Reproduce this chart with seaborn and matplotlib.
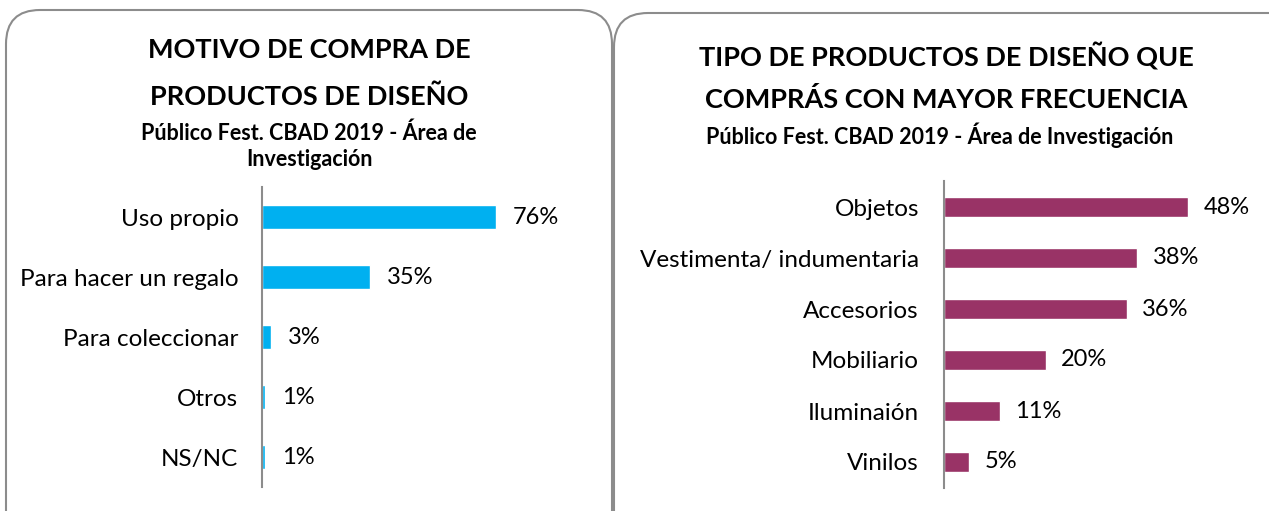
import matplotlib
matplotlib.use("Agg")
import matplotlib.pyplot as plt
import seaborn as sns
from matplotlib.patches import FancyBboxPatch
from matplotlib.transforms import IdentityTransform

# data
motivos = ["Uso propio", "Para hacer un regalo", "Para coleccionar", "Otros", "NS/NC"]
motivos_pct = [76, 35, 3, 1, 1]

tipos = ["Objetos", "Vestimenta/ indumentaria", "Accesorios", "Mobiliario", "Iluminaión", "Vinilos"]
tipos_pct = [48, 38, 36, 20, 11, 5]

W, H = 1269, 511
sns.set_style("white")
plt.rcParams["font.family"] = ["Lato", "DejaVu Sans"]

fig = plt.figure(figsize=(W / 100, H / 100), dpi=100)

# rounded panel frames (pixel coords, origin bottom-left)
for x0, top, w in [(6, 10, 606), (614, 13, 700)]:
    box = FancyBboxPatch((x0, -40), w, H - top + 40,
                         boxstyle="round,pad=0,rounding_size=34",
                         transform=IdentityTransform(), fill=False,
                         edgecolor="#8c8c8c", linewidth=1.5)
    fig.patches.append(box)


def panel(left, top, width, height, cats, vals, color, xmax, pad_lab, pad_val):
    ax = fig.add_axes([left / W, 1 - (top + height) / H, width / W, height / H])
    sns.barplot(x=vals, y=cats, orient="h", color=color, saturation=1,
                width=0.4, ax=ax)
    ax.set_xlim(0, xmax)
    ax.set_ylim(len(cats) - 0.5, -0.5)
    ax.set_xlabel("")
    ax.set_ylabel("")
    ax.set_xticks([])
    sns.despine(ax=ax, top=True, right=True, bottom=True, left=False)
    ax.spines["left"].set_color("#8c8c8c")
    ax.spines["left"].set_linewidth(1.5)
    ax.tick_params(axis="y", length=0, pad=pad_lab, labelsize=17.5, labelcolor="black")
    ax.patch.set_alpha(0)
    ax.bar_label(ax.containers[0], fmt="{:.0f}%", padding=pad_val,
                 fontsize=17, color="black")
    return ax


panel(262, 187, 308, 300, motivos, motivos_pct, "#00B0F0", 100, 17, 12)
panel(944, 181.5, 305, 306, tipos, tipos_pct, "#993366", 60, 18, 11)

# titles
def line(x, y, s, size):
    fig.text(x / W, 1 - y / H, s, ha="center", va="center",
             fontsize=size, fontweight="bold", color="black")

line(309, 50, "MOTIVO DE COMPRA DE", 19.5)
line(309, 97, "PRODUCTOS DE DISEÑO", 19.5)
line(309, 133, "Público Fest. CBAD 2019 - Área de", 15.5)
line(309, 160, "Investigación", 15.5)

line(946, 56, "TIPO DE PRODUCTOS DE DISEÑO QUE", 19.5)
line(946, 100, "COMPRÁS CON MAYOR FRECUENCIA", 19.5)
line(940, 135, "Público Fest. CBAD 2019 - Área de Investigación", 15.5)

fig.savefig("out.png", dpi=100)
